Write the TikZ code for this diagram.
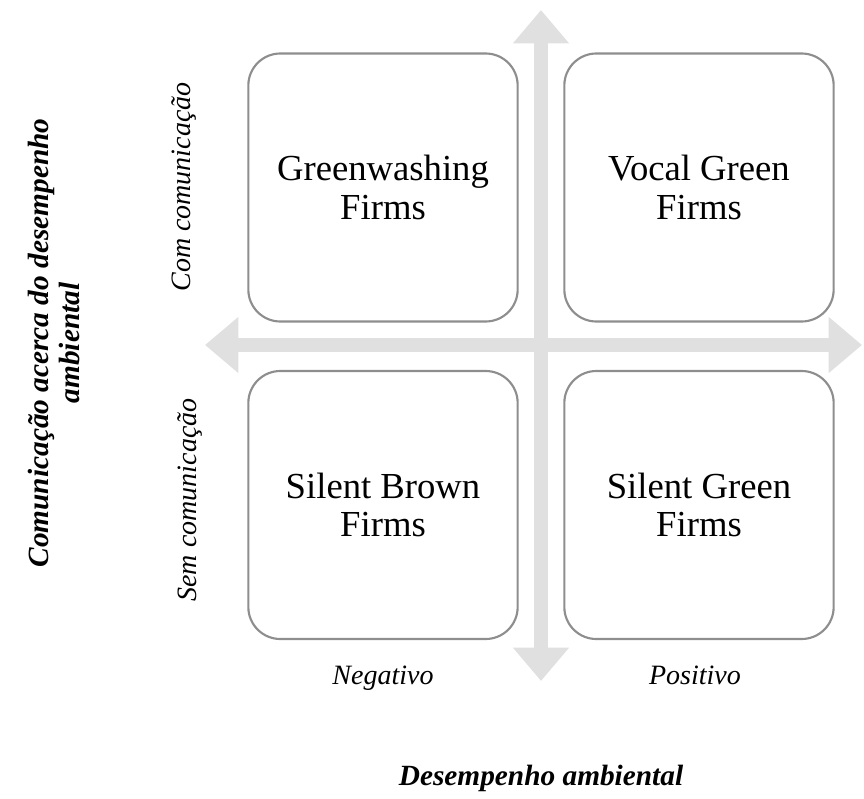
\documentclass[tikz,border=0pt]{standalone}
\usepackage{fontspec}
\setmainfont{Liberation Serif}
\usetikzlibrary{arrows.meta}
\definecolor{boxline}{HTML}{8E8E8E}
\definecolor{axisgray}{HTML}{E0E0E0}
\begin{document}
\begin{tikzpicture}[x=0.75pt,y=-0.75pt,
  quadrant/.style={draw=boxline,line width=1.6pt,rounded corners=24pt,
    minimum width=202pt,minimum height=201pt,align=center,
    font=\fontsize{27.5}{29}\selectfont},
  axis/.style={draw=axisgray,line width=10.5pt,
    {Triangle[width=40.5pt,length=25pt]}-{Triangle[width=40.5pt,length=25pt]}},
  sidelabel/.style={font=\fontsize{21}{23}\itshape\selectfont},
  titlelabel/.style={font=\fontsize{22}{23}\bfseries\itshape\selectfont,align=center}]
\useasboundingbox (0,0) rectangle (864,799);

% axis end points
\coordinate (ytop) at (541,10);
\coordinate (ybottom) at (541,681);
\coordinate (xleft) at (205,345);
\coordinate (xright) at (862,345);

% the two double-headed axes
\draw[axis] (xleft) -- (xright);
\draw[axis] (ybottom) -- (ytop);

% the four quadrants
\node[quadrant] (greenwash) at (383,187.5) {Greenwashing\\Firms};
\node[quadrant] (vocal) at (699,187.5) {Vocal Green\\Firms};
\node[quadrant] (brown) at (383,505) {Silent Brown\\Firms};
\node[quadrant] (silentgreen) at (699,505) {Silent Green\\Firms};

% level labels
\node[sidelabel,rotate=90] (com) at (184,187) {Com comunicação};
\node[sidelabel,rotate=90] (sem) at (190,500) {Sem comunicação};
\node[sidelabel] (neg) at (383,678) {Negativo};
\node[sidelabel] (pos) at (695,675) {Positivo};

% axis titles
\node[titlelabel,rotate=90] (ytitle) at (54,343) {Comunicação acerca do desempenho\\ambiental};
\node[titlelabel] (xtitle) at (541,778) {Desempenho ambiental};
\end{tikzpicture}
\end{document}
